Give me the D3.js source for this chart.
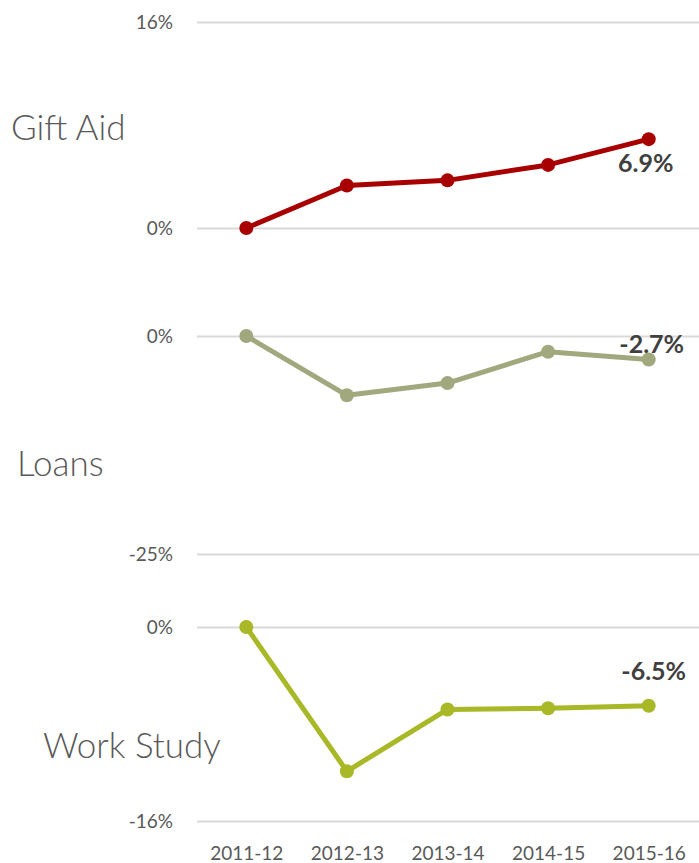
<!DOCTYPE html>
<html><head><meta charset="utf-8">
<script src="https://cdn.jsdelivr.net/npm/d3@7/dist/d3.min.js"></script>
<style>
body{margin:0;background:#fff;}
text{font-family:Lato,"Open Sans",sans-serif;}
</style></head>
<body><svg id="c" width="699" height="863"></svg>
<script>
const categories = ["2011-12","2012-13","2013-14","2014-15","2015-16"];
const giftAid = [0, 3.3, 3.7, 4.9, 6.9];
const loans = [0, -6.8, -5.4, -1.8, -2.7];
const workStudy = [0, -11.9, -6.8, -6.7, -6.5];
const giftTicks = [0, 16];
const loanTicks = [-25, 0];
const workTicks = [-16, 0];
const endLabels = ["6.9%", "-2.7%", "-6.5%"];
const panelNames = ["Gift Aid", "Loans", "Work Study"];

const svg = d3.select("#c");
const x = d3.scalePoint().domain(categories).range([196, 699]).padding(0.5);

const panels = [
  {name: panelNames[0], data: giftAid, ticks: giftTicks, domain:[0,16], range:[228,22], color:"#A80000",
   lx:11, ly:140, label:endLabels[0], dx:-3, dy:33},
  {name: panelNames[1], data: loans, ticks: loanTicks, domain:[-25,0], range:[554,336], color:"#A2A87E",
   lx:17, ly:476, label:endLabels[1], dx:3, dy:-7},
  {name: panelNames[2], data: workStudy, ticks: workTicks, domain:[-16,0], range:[821,627], color:"#A8B826",
   lx:43, ly:758, label:endLabels[2], dx:5, dy:-26}
];

panels.forEach(p => {
  const y = d3.scaleLinear().domain(p.domain).range(p.range);
  const ax = svg.append("g").attr("transform","translate(197,0)")
    .call(d3.axisLeft(y).tickValues(p.ticks).tickSize(-502).tickPadding(24).tickFormat(d => d + "%"));
  ax.select(".domain").remove();
  ax.selectAll(".tick line").attr("stroke","#D9D9D9").attr("stroke-width",2);
  ax.selectAll(".tick text").attr("fill","#595959").attr("font-size",19).attr("font-family","Lato, sans-serif");

  svg.append("text").attr("x",p.lx).attr("y",p.ly).text(p.name)
    .attr("font-size",35).attr("font-weight",300).attr("fill","#595959");

  const line = d3.line().x((d,i)=>x(categories[i])).y(d=>y(d));
  svg.append("path").datum(p.data).attr("d",line).attr("fill","none")
    .attr("stroke",p.color).attr("stroke-width",5).attr("stroke-linejoin","round");
  svg.append("g").selectAll("circle").data(p.data).join("circle")
    .attr("cx",(d,i)=>x(categories[i])).attr("cy",d=>y(d)).attr("r",7).attr("fill",p.color);

  const last = p.data.length-1;
  svg.append("text").attr("x",x(categories[last])+p.dx).attr("y",y(p.data[last])+p.dy)
    .attr("text-anchor","middle").attr("font-size",25).attr("font-weight",700)
    .attr("fill","#404040").text(p.label);
});

const xa = svg.append("g").attr("transform","translate(0,840)")
  .call(d3.axisBottom(x).tickSize(0).tickPadding(7));
xa.select(".domain").remove();
xa.selectAll("text").attr("fill","#595959").attr("font-size",19).attr("font-family","Lato, sans-serif");
</script></body></html>
